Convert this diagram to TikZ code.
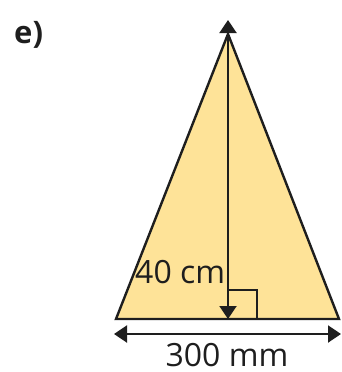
\documentclass[tikz,border=0pt]{standalone}
\usepackage{fontspec}
\setmainfont{Open Sans}
\usetikzlibrary{arrows.meta}
\definecolor{fillyel}{RGB}{254,227,152}
\definecolor{ink}{RGB}{30,30,30}
\begin{document}
\begin{tikzpicture}[x=1pt,y=-1pt,
  edge/.style={draw=ink,line width=2.4pt,line join=miter},
  dim/.style={draw=ink,line width=2pt,{Triangle[length=13pt,width=17pt]}-{Triangle[length=13pt,width=17pt]}},
  lbl/.style={font=\fontsize{32}{34}\selectfont,text=ink,inner sep=0pt}]
\useasboundingbox (0,0) rectangle (341,372);
\coordinate (A) at (228,34);
\coordinate (L) at (116,319);
\coordinate (R) at (339,319);
\coordinate (F) at (228,319);
\coordinate (T) at (228,20);
\coordinate (DL) at (114,334);
\coordinate (DR) at (341,334);
\filldraw[edge,fill=fillyel] (A) -- (L) -- (R) -- cycle;
\draw[draw=ink,line width=1.8pt] (228,290) -- (257,290) -- (257,319);
\draw[dim] (T) -- (F);
\draw[dim] (DL) -- (DR);
\node[lbl,anchor=base west] (h) at (135,283) {40 cm};
\node[lbl,anchor=base] (b) at (227,366) {300 mm};
\node[lbl,font=\bfseries\fontsize{31}{33}\selectfont,anchor=base west] (e) at (14,43) {e)};
\end{tikzpicture}
\end{document}
